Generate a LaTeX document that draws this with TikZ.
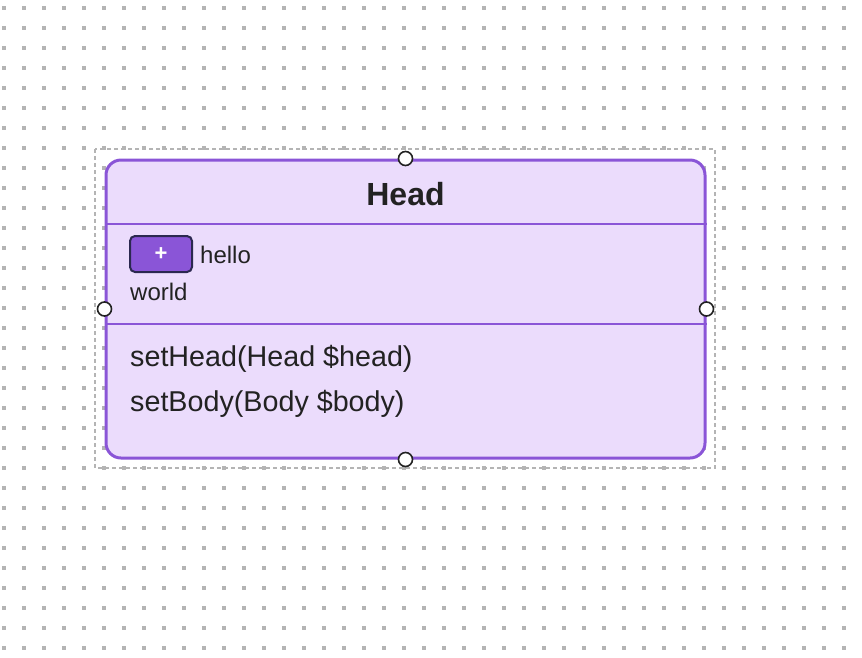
\documentclass[tikz,border=0pt]{standalone}
\usepackage{fontspec}
\setmainfont{Liberation Sans}
\usetikzlibrary{positioning}
\definecolor{umlpurple}{HTML}{8A55D7}
\definecolor{umlfill}{HTML}{EBDCFC}
\definecolor{umlink}{HTML}{222222}
\definecolor{griddot}{HTML}{B4B4B4}
\definecolor{selgray}{HTML}{B4B4B4}
\definecolor{btnedge}{HTML}{2B2850}
\begin{document}
\begin{tikzpicture}[x=1pt,y=-1pt,
  classbox/.style={draw=umlpurple,line width=3pt,fill=umlfill,rounded corners=15pt,inner sep=0pt},
  handle/.style={circle,draw=umlink,line width=1.6pt,fill=white,minimum size=14pt,inner sep=0pt},
  member/.style={anchor=base west,inner sep=0pt,text=umlink,font=\fontsize{24}{28}\selectfont},
  method/.style={anchor=base west,inner sep=0pt,text=umlink,font=\fontsize{28.7}{33}\selectfont},
  addbtn/.style={draw=btnedge,line width=2pt,fill=umlpurple,rounded corners=5pt,inner sep=0pt,
    minimum width=62pt,minimum height=36pt,text=white,font=\fontsize{22}{26}\selectfont\bfseries}]
\useasboundingbox (0,0) rectangle (862,657);

%Dot grid
\foreach \i in {0,...,42}
  \foreach \j in {0,...,32}
    \fill[griddot] (2.3+20*\i,6.3+20*\j) rectangle ++(3.4,3.4);

%Shape: Selection frame
\draw[selgray,line width=1.2pt,dash pattern={on 4pt off 3pt}] (95,149) rectangle (715,468);

%Shape: Class box
\node[classbox,minimum width=599pt,minimum height=298pt] (cls) at (405.5,309) {};
\coordinate (sepA) at (106,224);
\coordinate (sepB) at (106,324);
\draw[umlpurple,line width=2pt] (sepA) -- (sepA -| cls.east);
\draw[umlpurple,line width=2pt] (sepB) -- (sepB -| cls.east);

% Text Node
\node[anchor=base,inner sep=0pt,text=umlink,font=\fontsize{32}{38}\selectfont\bfseries] (title) at (405.5,205) {Head};

%Button
\node[addbtn] (plus) at (161,254) {+};
% Text Node
\node[member] (hello) at (200,263) {hello};
% Text Node
\node[member] (world) at (130,300) {world};
% Text Node
\node[method] (mHead) at (130,366) {setHead(Head \$head)};
% Text Node
\node[method] (mBody) at (130,411) {setBody(Body \$body)};

%Resize handles
\node[handle] (hN) at (cls.north) {};
\node[handle] (hS) at (cls.south) {};
\node[handle] (hW) at (cls.west) {};
\node[handle] (hE) at (cls.east) {};

\end{tikzpicture}
\end{document}
